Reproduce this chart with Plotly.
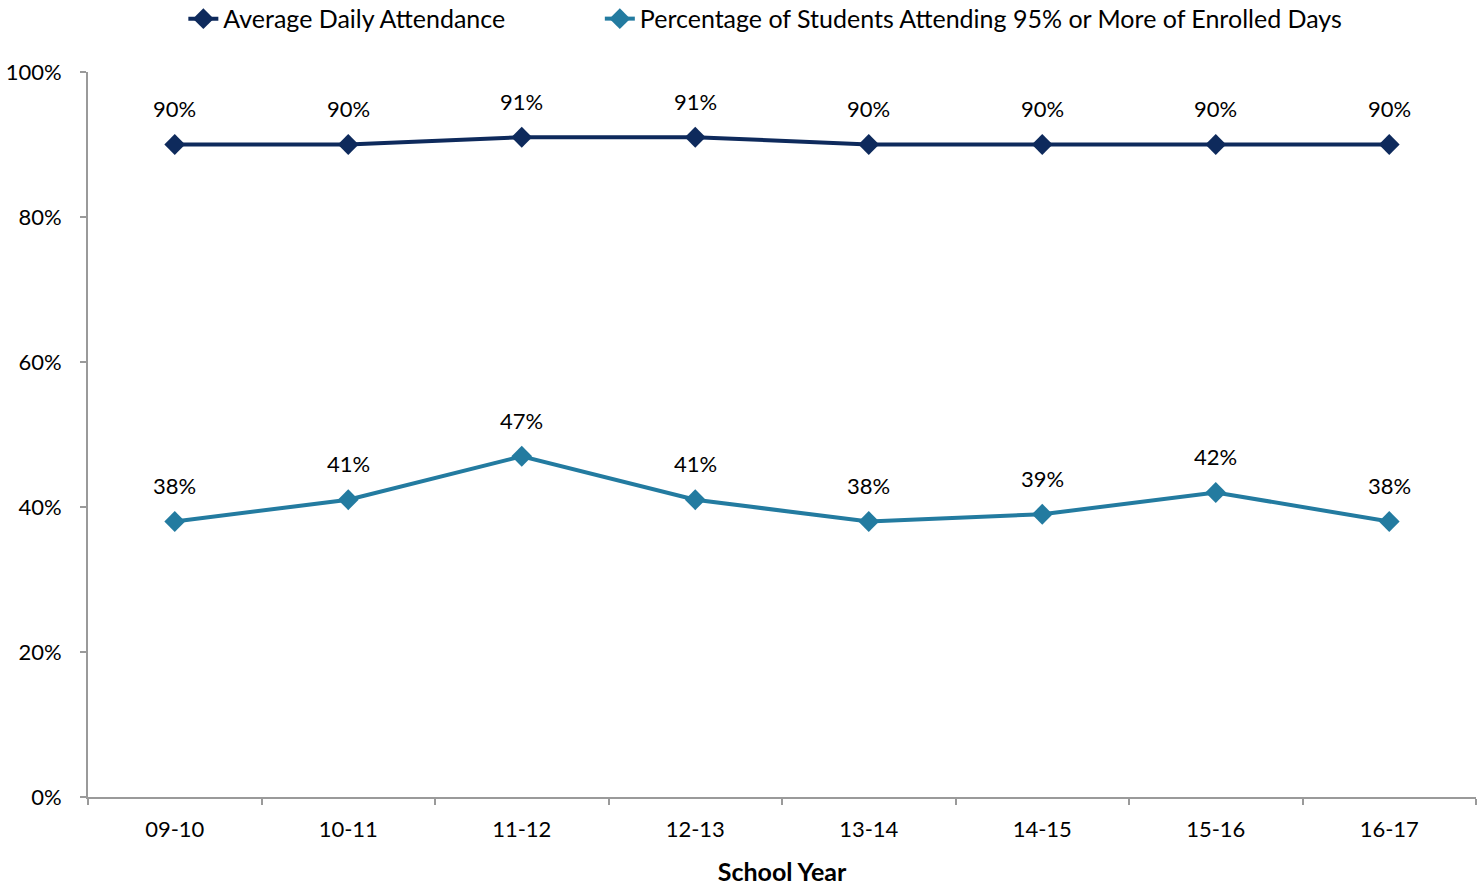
import plotly.graph_objects as go

school_years = ["09-10", "10-11", "11-12", "12-13", "13-14", "14-15", "15-16", "16-17"]
avg_daily_attendance = [90, 90, 91, 91, 90, 90, 90, 90]
pct_attending_95 = [38, 41, 47, 41, 38, 39, 42, 38]
y_ticks = [0, 20, 40, 60, 80, 100]
y_tick_labels = ["0%", "20%", "40%", "60%", "80%", "100%"]

series_names = ["Average Daily Attendance",
                "Percentage of Students Attending 95% or More of Enrolled Days"]
series_colors = ["#0E2A5C", "#237BA0"]

FONT = "Lato, Open Sans, sans-serif"
GAP = "\u00a0" * 14  # spacing between the two legend entries

fig = go.Figure()
for i, (name, vals, color) in enumerate(zip(series_names, [avg_daily_attendance, pct_attending_95], series_colors)):
    fig.add_trace(go.Scatter(
        x=school_years, y=vals, name=name + (GAP if i == 0 else ""),
        mode="lines+markers",
        line=dict(color=color, width=4),
        marker=dict(symbol="diamond", size=16, color=color),
        cliponaxis=False,
    ))
    # value labels above each point
    for xv, yv in zip(school_years, vals):
        fig.add_annotation(x=xv, y=yv, text=f"{yv}%", showarrow=False,
                           yshift=36, font=dict(family=FONT, size=22, color="#000000"))

fig.update_layout(
    width=1478, height=886,
    margin=dict(l=88, r=2, t=72, b=89, autoexpand=False),
    paper_bgcolor="white", plot_bgcolor="white",
    font=dict(family=FONT, size=22, color="#000000"),
    showlegend=True,
    legend=dict(orientation="h", x=0.488, xanchor="center", y=1.105, yanchor="top",
                font=dict(family=FONT, size=25), tracegroupgap=0),
    xaxis=dict(
        type="category", range=[-0.5, 7.5],
        showline=True, linecolor="#9a9a9a", linewidth=2,
        ticks="outside", tickson="boundaries", ticklen=6, tickcolor="#9a9a9a", tickwidth=2,
        showgrid=False, zeroline=False,
        tickfont=dict(family=FONT, size=22),
        ticklabelstandoff=12,
        title=dict(text="<b>School Year</b>", font=dict(family=FONT, size=25), standoff=22),
    ),
    yaxis=dict(
        range=[0, 100], tickvals=y_ticks, ticktext=y_tick_labels,
        showline=True, linecolor="#9a9a9a", linewidth=2,
        ticks="outside", ticklen=6, tickcolor="#9a9a9a", tickwidth=2,
        showgrid=False, zeroline=False,
        tickfont=dict(family=FONT, size=22),
        ticklabelstandoff=14,
    ),
)

fig.write_html("out.html")
